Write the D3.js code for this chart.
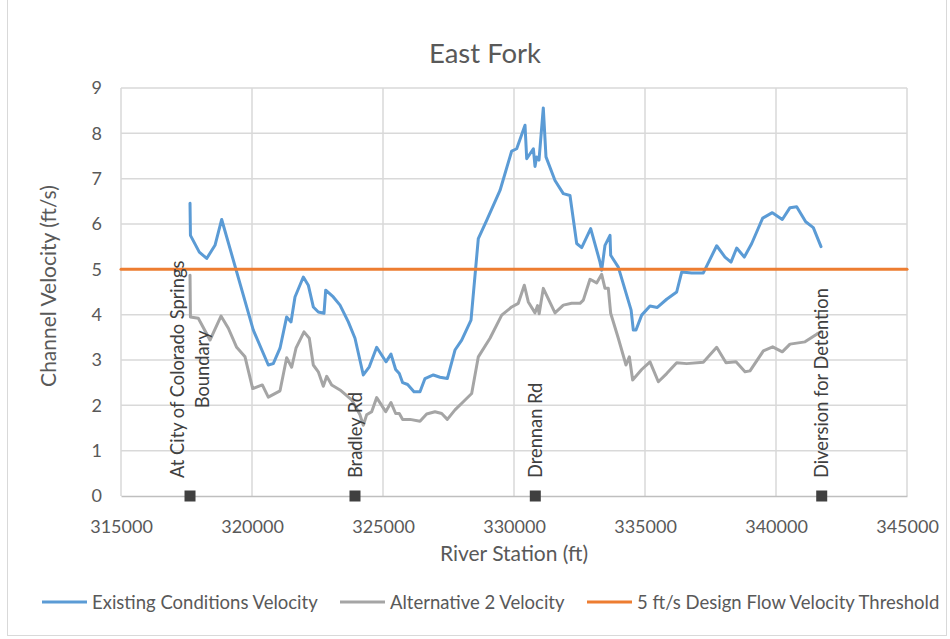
<!DOCTYPE html>
<html><head><meta charset="utf-8">
<script src="https://cdn.jsdelivr.net/npm/d3@7"></script>
<style>
html,body{margin:0;padding:0;background:#fff;}
svg{display:block;font-family:Lato,"Open Sans",sans-serif;}
</style></head>
<body><svg id="c" width="950" height="639"></svg>
<script>
// ---- data ----
const existingStation = [317634,317650,317989,318271,318588,318843,320050,320622,320813,321069,321323,321489,321641,321959,322149,322340,322531,322748,322813,323103,323359,323676,323931,324248,324477,324759,325114,325305,325483,325622,325750,325941,326183,326412,326603,326921,327176,327455,327748,328004,328359,328638,328957,329466,329912,330103,330420,330485,330739,330802,330866,330954,331118,331221,331565,331882,332137,332393,332584,332927,333282,333346,333473,333664,333690,333981,334470,334554,334656,334873,335191,335470,335827,336209,336400,336782,337226,337736,338053,338282,338500,338790,339073,339492,339860,340240,340534,340789,341133,341424,341718];
const existingVelocity = [6.46,5.75,5.38,5.24,5.53,6.10,3.66,2.89,2.92,3.26,3.95,3.84,4.39,4.83,4.65,4.17,4.06,4.03,4.54,4.39,4.21,3.84,3.48,2.67,2.85,3.28,2.96,3.13,2.79,2.70,2.50,2.46,2.30,2.30,2.59,2.67,2.62,2.59,3.22,3.44,3.88,5.68,6.08,6.74,7.61,7.66,8.18,7.44,7.66,7.27,7.48,7.41,8.56,7.48,6.96,6.67,6.63,5.57,5.48,5.90,5.16,4.98,5.53,5.75,5.31,5.05,4.10,3.66,3.66,3.99,4.19,4.16,4.34,4.50,4.94,4.92,4.92,5.52,5.27,5.16,5.47,5.27,5.57,6.13,6.25,6.10,6.36,6.38,6.05,5.92,5.50];

const alt2Station = [317634,317650,317950,318397,318817,319097,319415,319733,320026,320394,320622,321069,321323,321514,321679,321985,322187,322340,322531,322722,322851,323042,323359,323805,324122,324248,324375,324568,324759,325103,325305,325483,325622,325750,326031,326412,326667,326985,327240,327455,327748,328065,328385,328638,329084,329531,329912,330164,330393,330546,330802,330900,330960,331118,331565,331882,332200,332519,332646,332901,333155,333346,333473,333600,333690,333981,334275,334402,334529,334873,335191,335509,335827,336209,336591,337226,337736,338092,338473,338817,339008,339517,339873,340240,340534,341107,341553,341718];
const alt2Velocity = [4.87,3.95,3.92,3.44,3.97,3.70,3.28,3.07,2.37,2.45,2.18,2.32,3.05,2.84,3.26,3.62,3.48,2.89,2.74,2.42,2.64,2.45,2.34,2.12,1.79,1.56,1.79,1.86,2.17,1.86,2.06,1.82,1.82,1.69,1.69,1.65,1.81,1.86,1.82,1.69,1.90,2.08,2.26,3.07,3.48,3.99,4.17,4.25,4.65,4.28,4.04,4.20,4.02,4.58,4.04,4.21,4.25,4.25,4.32,4.78,4.70,4.89,4.58,4.58,4.03,3.48,2.89,3.07,2.56,2.79,2.96,2.52,2.70,2.94,2.92,2.95,3.28,2.94,2.96,2.74,2.76,3.20,3.29,3.18,3.35,3.40,3.57,3.62];

const thresholdStation = [315000,345000];
const thresholdVelocity = [5,5];

const landmarkStation = [317634,323931,330813,341745];
const landmarkVelocity = [0,0,0,0];
const landmarkLabels = [["At City of Colorado Springs","Boundary"],["Bradley Rd"],["Drennan Rd"],["Diversion for Detention"]];

const xTicks = [315000,320000,325000,330000,335000,340000,345000];
const yTicks = [0,1,2,3,4,5,6,7,8,9];
const seriesNames = ["Existing Conditions Velocity","Alternative 2 Velocity","5 ft/s Design Flow Velocity Threshold"];
const seriesColors = ["#5b9bd5","#a5a5a5","#ed7d31"];
const chartTitle = "East Fork";
const xTitle = "River Station (ft)";
const yTitle = "Channel Velocity (ft/s)";

// ---- drawing ----
const svg = d3.select("#c");
const txt = "#595959";
const L = 121, R = 907, T = 88, B = 496;
const x = d3.scaleLinear().domain([315000,345000]).range([L,R]);
const y = d3.scaleLinear().domain([0,9]).range([B,T]);

// chart border
svg.append("rect").attr("x",7.5).attr("y",-1).attr("width",939).attr("height",636.5)
  .attr("fill","none").attr("stroke","#d9d9d9").attr("stroke-width",1);

// gridlines
const grid = svg.append("g");
grid.selectAll("line.h").data(yTicks.filter(d=>d>0)).join("line")
  .attr("x1",L).attr("x2",R).attr("y1",d=>y(d)).attr("y2",d=>y(d))
  .attr("stroke","#d9d9d9").attr("stroke-width",1.5);
grid.selectAll("line.v").data(xTicks).join("line")
  .attr("x1",d=>x(d)).attr("x2",d=>x(d)).attr("y1",T).attr("y2",B)
  .attr("stroke","#d9d9d9").attr("stroke-width",1.5);

// axes (labels via d3 axes)
const xAxis = svg.append("g").attr("transform",`translate(0,${B})`)
  .call(d3.axisBottom(x).tickValues(xTicks).tickFormat(d3.format("d")).tickSize(0).tickPadding(24));
xAxis.select(".domain").attr("stroke","#bfbfbf").attr("stroke-width",1.5);
xAxis.selectAll("text").attr("fill",txt).style("font-size","18px").style("font-family","Lato");

const yAxis = svg.append("g").attr("transform",`translate(${L},0)`)
  .call(d3.axisLeft(y).tickValues(yTicks).tickSize(0).tickPadding(19));
yAxis.select(".domain").remove();
yAxis.selectAll("text").attr("fill",txt).style("font-size","18px").style("font-family","Lato");

// series lines
const line = d3.line().x(d=>x(d[0])).y(d=>y(d[1]));
const series = [
  d3.zip(existingStation, existingVelocity),
  d3.zip(alt2Station, alt2Velocity),
  d3.zip(thresholdStation, thresholdVelocity)
];
[0,1,2].forEach(i=>{
  svg.append("path").datum(series[i]).attr("d",line)
    .attr("fill","none").attr("stroke",seriesColors[i]).attr("stroke-width",3)
    .attr("stroke-linejoin","round").attr("stroke-linecap","round");
});

// landmark markers
svg.selectAll("rect.mk").data(d3.zip(landmarkStation,landmarkVelocity)).join("rect")
  .attr("x",d=>x(d[0])-5.5).attr("y",d=>y(d[1])-5.5).attr("width",11).attr("height",11)
  .attr("fill","#404040");

// landmark labels (rotated)
landmarkLabels.forEach((lines,i)=>{
  const g = svg.append("g");
  const n = lines.length;
  const ts = lines.map((s,j)=> g.append("text").text(s)
    .attr("text-anchor","middle").attr("x",0)
    .attr("y",(j-(n-1)/2)*24.5).attr("dy","0.36em")
    .attr("fill","#404040").style("font-size","18.3px").style("font-family","Lato"));
  const maxLen = d3.max(ts,t=>t.node().getComputedTextLength());
  g.attr("transform",`translate(${x(landmarkStation[i])},${y(landmarkVelocity[i])-18-maxLen/2}) rotate(-90)`);
});

// title
svg.append("text").attr("x",485).attr("y",63).attr("text-anchor","middle")
  .attr("fill",txt).style("font-size","27.5px").text(chartTitle);
// axis titles
svg.append("text").attr("x",(L+R)/2).attr("y",561).attr("text-anchor","middle")
  .attr("fill",txt).style("font-size","21px").text(xTitle);
svg.append("text").attr("transform",`translate(56,${(T+B)/2-6}) rotate(-90)`).attr("text-anchor","middle")
  .attr("fill",txt).style("font-size","21px").text(yTitle);

// legend
const legX = [42,340,587];
seriesNames.forEach((name,i)=>{
  svg.append("line").attr("x1",legX[i]).attr("x2",legX[i]+45).attr("y1",602).attr("y2",602)
    .attr("stroke",seriesColors[i]).attr("stroke-width",3);
  svg.append("text").attr("x",legX[i]+50).attr("y",602).attr("dy","0.36em")
    .attr("fill",txt).style("font-size","18.5px").text(name);
});
</script></body></html>
